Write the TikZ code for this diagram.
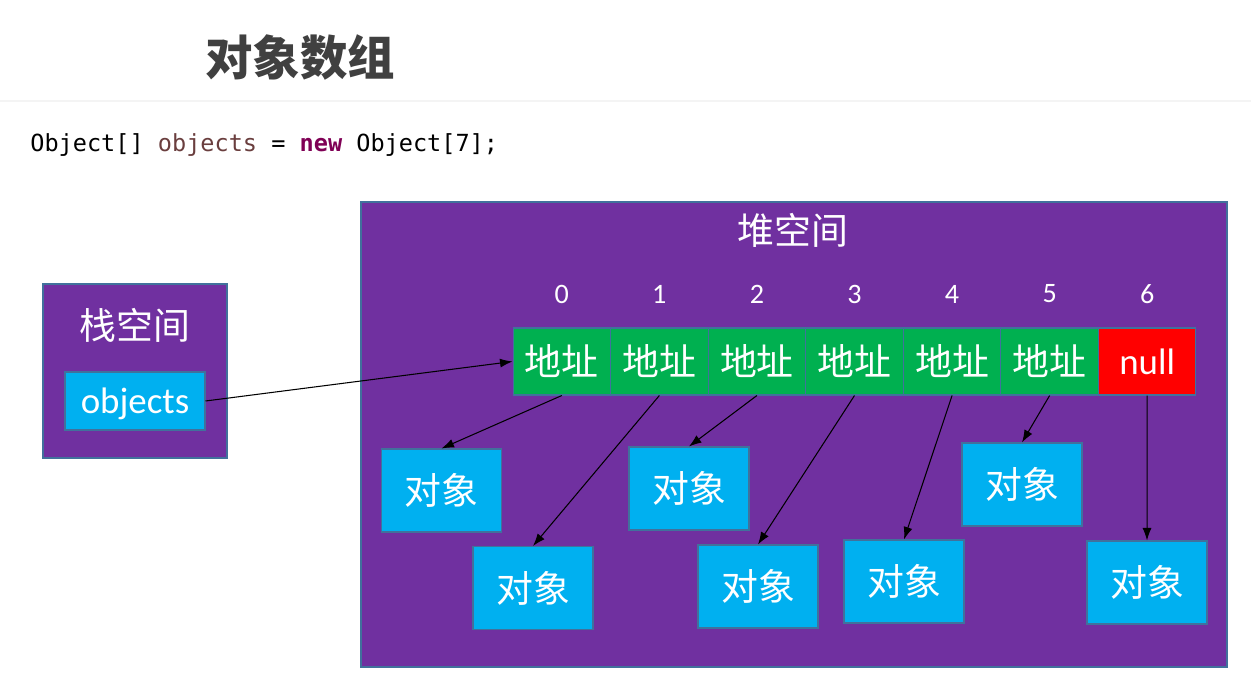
\documentclass[tikz,border=0pt]{standalone}
\usepackage{fontspec}
\setmainfont{Carlito}
\setmonofont{DejaVu Sans Mono}
\newfontfamily\cjk{Noto Sans CJK SC}
\usetikzlibrary{arrows.meta}
\definecolor{heappurple}{RGB}{112, 48, 160}
\definecolor{addrgreen}{RGB}{0, 176, 80}
\definecolor{objcyan}{RGB}{0, 176, 240}
\definecolor{nullred}{RGB}{255, 0, 0}
\definecolor{edgeblue}{RGB}{65, 113, 156}
\definecolor{titlegray}{RGB}{64, 64, 64}
\definecolor{varbrown}{RGB}{106, 62, 62}
\definecolor{kwpurple}{RGB}{127, 0, 85}
\definecolor{rulegray}{RGB}{244, 244, 244}

\begin{document}
\begin{tikzpicture}[x=0.02cm, y=-0.02cm,
    cell/.style={draw=edgeblue, line width=0.6pt, fill=addrgreen, text=white,
      minimum width=1.95cm, minimum height=1.34cm, inner sep=0pt,
      font=\cjk\fontsize{21}{21}\selectfont},
    objbox/.style={draw=edgeblue, line width=0.6pt, fill=objcyan, text=white,
      minimum width=2.4cm, minimum height=1.66cm, inner sep=0pt,
      font=\cjk\fontsize{21}{21}\selectfont},
    ptr/.style={-{Latex[length=2.5mm, width=1.8mm]}, line width=0.6pt}]
    \useasboundingbox (0,0) rectangle (1251,685);

    %% title and code line
    \node[text=titlegray, font=\cjk\bfseries\fontsize{27}{27}\selectfont] (title) at (300,57) {对象数组};
    \draw[rulegray, line width=1.7pt] (0,101) -- (1251,101);
    \node[anchor=west, inner sep=0pt, font=\ttfamily\fontsize{13.4}{14}\selectfont] (code) at (30,145)
      {Object[] \textcolor{varbrown}{objects} = \textcolor{kwpurple}{\bfseries new} Object[7];};

    %% stack
    \draw[draw=edgeblue, line width=0.6pt, fill=heappurple] (43,284) rectangle (227,458);
    \node[text=white, font=\cjk\fontsize{21}{21}\selectfont] (stacklabel) at (135,325) {栈空间};
    \node[draw=edgeblue, line width=0.6pt, fill=objcyan, text=white, minimum width=2.8cm,
          minimum height=1.16cm, inner sep=0pt, text depth=0pt,
          font=\fontsize{21}{21}\selectfont] (objs) at (135,401) {objects};

    %% heap
    \draw[draw=edgeblue, line width=0.6pt, fill=heappurple] (361,202) rectangle (1227,667);
    \node[text=white, font=\cjk\fontsize{21}{21}\selectfont] (heaplabel) at (793,230) {堆空间};

    %% array cells
    \foreach \i in {0,...,5} {
      \node[cell] (c\i) at ({513+97.57*(\i+0.5)},361.5) {地址};
    }
    \node[cell, fill=nullred, font=\fontsize{21}{21}\selectfont] (c6) at ({513+97.57*6.5},361.5) {null};
    \foreach \i in {0,...,6} {
      \node[text=white, font=\fontsize{16}{16}\selectfont] (idx\i) at ({513+97.57*(\i+0.5)},294) {\i};
    }

    %% objects
    \node[objbox] (o0) at (441.5,490.5) {对象};
    \node[objbox] (o1) at (533,588) {对象};
    \node[objbox] (o2) at (689,488.5) {对象};
    \node[objbox] (o3) at (758,586.5) {对象};
    \node[objbox] (o4) at (904,581.5) {对象};
    \node[objbox] (o5) at (1022,484.5) {对象};
    \node[objbox] (o6) at (1147,582.5) {对象};

    %% references
    \draw[ptr] (objs.east) -- (c0.west);
    \foreach \i in {0,...,6} {
      \draw[ptr] (c\i.south) -- (o\i.north);
    }
  \end{tikzpicture}
\end{document}
